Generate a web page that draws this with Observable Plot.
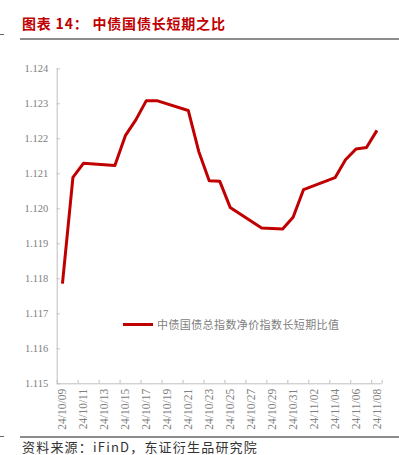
<!DOCTYPE html>
<html>
<head>
<meta charset="utf-8">
<script src="https://cdn.jsdelivr.net/npm/d3@7"></script>
<script src="https://cdn.jsdelivr.net/npm/@observablehq/plot@0.6"></script>
<style>
  html, body { margin: 0; padding: 0; background: #fff; }
  #wrap { position: relative; width: 399px; height: 455px; overflow: hidden; background: #fff; }
  .abs { position: absolute; }
  #title { left: 22px; top: 15px; font-family: "Noto Sans CJK SC", sans-serif; font-weight: 700; font-size: 14px; letter-spacing: 0.8px; color: #c00000; white-space: pre; line-height: 16px; }
  .rule { background: #8c8c8c; height: 1.5px; left: 20px; width: 379px; }
  .dash { background: #666; height: 1px; left: 0; width: 4px; }
  #legend { left: 123px; top: 316px; height: 16px; display: flex; align-items: center; white-space: nowrap; }
  #legend .sw { width: 30px; height: 3px; background: #c00000; margin-right: 4px; }
  #legend .tx { font-family: "Noto Sans CJK SC", sans-serif; font-size: 11px; letter-spacing: 0.4px; color: #808080; }
  #source { left: 22px; top: 440px; font-family: "Noto Sans CJK SC", sans-serif; font-size: 13px; letter-spacing: 1.2px; color: #333; white-space: nowrap; line-height: 13px; }
  #chart { left: 0; top: 50px; }
  #chart svg text { font-family: "Liberation Serif", "Times New Roman", serif !important; }
</style>
</head>
<body>
<div id="wrap">
  <div class="abs dash" style="top:34px"></div>
  <div id="title" class="abs"></div>
  <div class="abs rule" style="top:38px"></div>
  <div id="chart" class="abs"></div>
  <div id="legend" class="abs"><div class="sw"></div><div class="tx"></div></div>
  <div class="abs dash" style="top:436px"></div>
  <div class="abs rule" style="top:436px"></div>
  <div id="source" class="abs"></div>
</div>
<script>
const titleText = "图表 14： 中债国债长短期之比";
const seriesName = "中债国债总指数净价指数长短期比值";
const sourceText = "资料来源：iFinD，东证衍生品研究院";

const dates = ["24/10/09","24/10/10","24/10/11","24/10/14","24/10/15","24/10/16","24/10/17","24/10/18",
  "24/10/21","24/10/22","24/10/23","24/10/24","24/10/25","24/10/28","24/10/29","24/10/30","24/10/31",
  "24/11/01","24/11/04","24/11/05","24/11/06","24/11/07","24/11/08"];
const values = [1.11786,1.12090,1.12130,1.12124,1.12209,1.12254,1.12309,1.12309,
  1.12281,1.12164,1.12080,1.12079,1.12004,1.11945,1.11944,1.11942,1.11976,
  1.12055,1.12089,1.12140,1.12171,1.12175,1.12224];

const xTickLabels = ["24/10/09","24/10/11","24/10/13","24/10/15","24/10/17","24/10/19","24/10/21","24/10/23",
  "24/10/25","24/10/27","24/10/29","24/10/31","24/11/02","24/11/04","24/11/06","24/11/08"];
const yTicks = [1.115,1.116,1.117,1.118,1.119,1.120,1.121,1.122,1.123,1.124];

document.getElementById("title").textContent = titleText;
document.querySelector("#legend .tx").textContent = seriesName;
document.getElementById("source").textContent = sourceText;

const parse = d3.utcParse("%y/%m/%d");
const data = dates.map((d, i) => ({date: parse(d), value: values[i]}));
const xTickDates = xTickLabels.map(parse);
const half = d => d3.utcHour.offset(d, -12);
const xDomain = [half(xTickDates[0]), d3.utcHour.offset(xTickDates[xTickDates.length - 1], 12)];
const boundaries = xTickDates.map(half).concat([xDomain[1]]);
const yDomain = [yTicks[0], yTicks[yTicks.length - 1]];
const axisColor = "#bfbfbf";
const serif = "Liberation Serif";

const chart = Plot.plot({
  width: 399,
  height: 390,
  marginTop: 18.3,
  marginLeft: 56.7,
  marginRight: 17.3,
  marginBottom: 56.7,
  style: {fontFamily: serif, fontSize: "10.5px", color: "#808080", background: "transparent"},
  x: {type: "utc", domain: xDomain},
  y: {domain: yDomain},
  marks: [
    Plot.ruleX([xDomain[0]], {stroke: axisColor, strokeWidth: 1}),
    Plot.ruleY([yDomain[0]], {stroke: axisColor, strokeWidth: 1}),
    Plot.ruleY(yTicks, {x1: xDomain[0], x2: d3.utcHour.offset(xDomain[0], 7), stroke: axisColor}),
    Plot.ruleX(boundaries, {y1: yDomain[0], y2: yDomain[0] + 0.0001, stroke: axisColor}),
    Plot.axisY({ticks: yTicks, tickSize: 0, tickPadding: 9, tickFormat: d3.format(".3f"), label: null, fill: "#808080", fontSize: 10.5, fontFamily: serif}),
    Plot.axisX({ticks: xTickDates, tickSize: 0, tickPadding: 5, tickRotate: -90, tickFormat: d3.utcFormat("%y/%m/%d"), label: null, fill: "#808080", fontSize: 11.5, fontFamily: serif}),
    Plot.line(data, {x: "date", y: "value", stroke: "#c00000", strokeWidth: 3, strokeLinejoin: "round", strokeLinecap: "butt"})
  ]
});
document.getElementById("chart").appendChild(chart);
</script>
</body>
</html>
